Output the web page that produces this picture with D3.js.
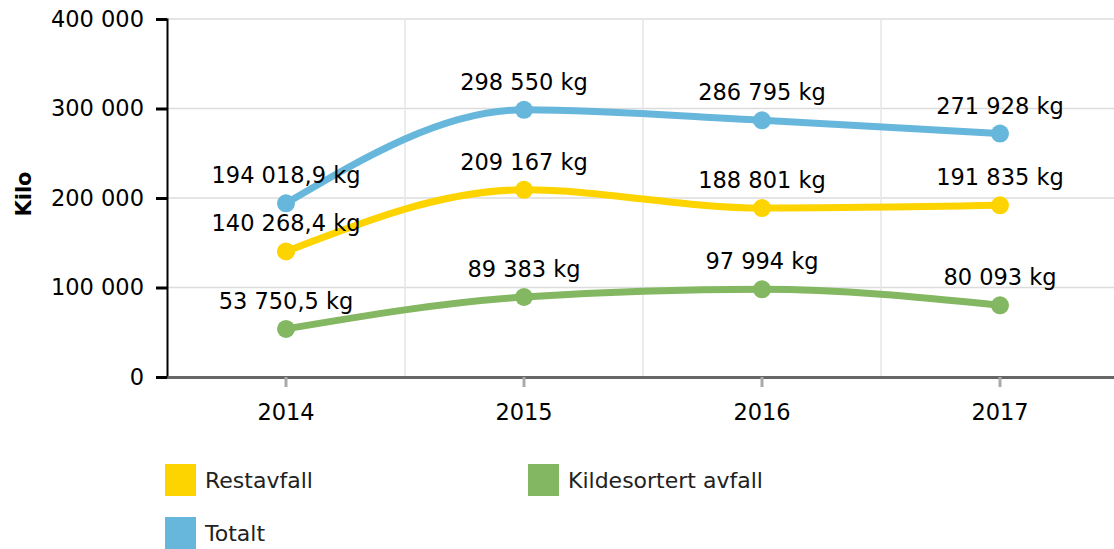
<!DOCTYPE html>
<html>
<head>
<meta charset="utf-8">
<script src="https://cdn.jsdelivr.net/npm/d3@7"></script>
<style>
  body { margin: 0; background: #fff; }
  svg { display: block; font-family: "DejaVu Sans", Verdana, sans-serif; }
</style>
</head>
<body>
<svg id="drawing_region"></svg>
<script>
// years on the x axis
const years = ["2014", "2015", "2016", "2017"];
// series values (kg)
const restavfall = [140268.4, 209167, 188801, 191835];
const kildesortert = [53750.5, 89383, 97994, 80093];
const totalt = [194018.9, 298550, 286795, 271928];
const seriesNames = ["Restavfall", "Kildesortert avfall", "Totalt"];
const seriesColors = ["#fdd400", "#84b761", "#67b7dc"];
const yTicks = [0, 100000, 200000, 300000, 400000];

const chartW = 1114, chartH = 549;
const plotLeft = 167, plotTop = 19, plotBottom = 377;

const locale = d3.formatLocale({ decimal: ",", thousands: " ", grouping: [3], currency: ["", " kr"] });
const fmtInt = locale.format(",d");
const fmtDec = locale.format(",.1f");
const fmtKg = v => (Number.isInteger(v) ? fmtInt(v) : fmtDec(v)) + " kg";

const svg = d3.select('#drawing_region')
    .attr('width', chartW)
    .attr('height', chartH);

const xscale = d3.scaleBand()
    .domain(years)
    .range([plotLeft, plotLeft + 4 * 238]);
const yscale = d3.scaleLinear()
    .domain([0, 400000])
    .range([plotBottom, plotTop]);

// grid
const grid = svg.append('g');
grid.selectAll('line.h')
    .data(yTicks.slice(1))
    .enter().append('line')
    .attr('x1', plotLeft).attr('x2', chartW)
    .attr('y1', d => yscale(d)).attr('y2', d => yscale(d))
    .attr('stroke', '#dcdcdc').attr('stroke-width', 1.5);
grid.selectAll('line.v')
    .data(years.slice(1))
    .enter().append('line')
    .attr('x1', d => xscale(d)).attr('x2', d => xscale(d))
    .attr('y1', plotTop).attr('y2', plotBottom)
    .attr('stroke', '#e6e6e6').attr('stroke-width', 1.5);

// y axis
const yaxis = d3.axisLeft(yscale)
    .tickValues(yTicks)
    .tickSize(11)
    .tickPadding(12)
    .tickFormat(fmtInt);
const yaxis_group = svg.append('g')
    .attr('transform', `translate(${plotLeft}, 0)`)
    .call(yaxis);
yaxis_group.select('.domain').attr('stroke', '#000').attr('stroke-width', 2);
yaxis_group.selectAll('.tick line').attr('stroke', '#000').attr('stroke-width', 3);
yaxis_group.selectAll('.tick text')
    .attr('font-size', 22.5).attr('fill', '#000')
    .attr('font-family', '"DejaVu Sans", Verdana, sans-serif');

// x axis
const xaxis = d3.axisBottom(xscale)
    .tickSize(10)
    .tickPadding(17)
    .tickSizeOuter(0);
const xaxis_group = svg.append('g')
    .attr('transform', `translate(0, ${plotBottom})`)
    .call(xaxis);
xaxis_group.select('.domain').attr('stroke', '#666').attr('stroke-width', 3);
xaxis_group.selectAll('.tick line').attr('stroke', '#aaa').attr('stroke-width', 3);
xaxis_group.selectAll('.tick text')
    .attr('font-size', 22.5).attr('fill', '#000')
    .attr('font-family', '"DejaVu Sans", Verdana, sans-serif');

// y title
svg.append('text')
    .attr('transform', `translate(31, 194) rotate(-90)`)
    .attr('text-anchor', 'middle')
    .attr('font-size', 21)
    .attr('font-weight', 'bold')
    .text('Kilo');

// lines
const series = [restavfall, kildesortert, totalt];
const xc = d => xscale(d) + xscale.bandwidth() / 2;
const line = d3.line()
    .x((d, i) => xc(years[i]))
    .y(d => yscale(d))
    .curve(d3.curveMonotoneX);

series.forEach((vals, k) => {
    const g = svg.append('g');
    g.append('path')
        .attr('d', line(vals))
        .attr('fill', 'none')
        .attr('stroke', seriesColors[k])
        .attr('stroke-width', 7);
    g.selectAll('circle')
        .data(vals)
        .enter().append('circle')
        .attr('cx', (d, i) => xc(years[i]))
        .attr('cy', d => yscale(d))
        .attr('r', 9)
        .attr('fill', seriesColors[k]);
    g.selectAll('text')
        .data(vals)
        .enter().append('text')
        .attr('x', (d, i) => xc(years[i]))
        .attr('y', d => yscale(d) - 20)
        .attr('text-anchor', 'middle')
        .attr('font-size', 22.5)
        .attr('fill', '#000')
        .text(d => fmtKg(d));
});

// legend
const legendPos = [[165, 464], [528, 464], [165, 517]];
seriesNames.forEach((name, k) => {
    const [lx, ly] = legendPos[k];
    svg.append('rect')
        .attr('x', lx).attr('y', ly)
        .attr('width', 31).attr('height', 32)
        .attr('fill', seriesColors[k]);
    svg.append('text')
        .attr('x', lx + 40).attr('y', ly + 16)
        .attr('dy', '0.36em')
        .attr('font-size', 22)
        .attr('fill', '#222')
        .text(name);
});
</script>
</body>
</html>
